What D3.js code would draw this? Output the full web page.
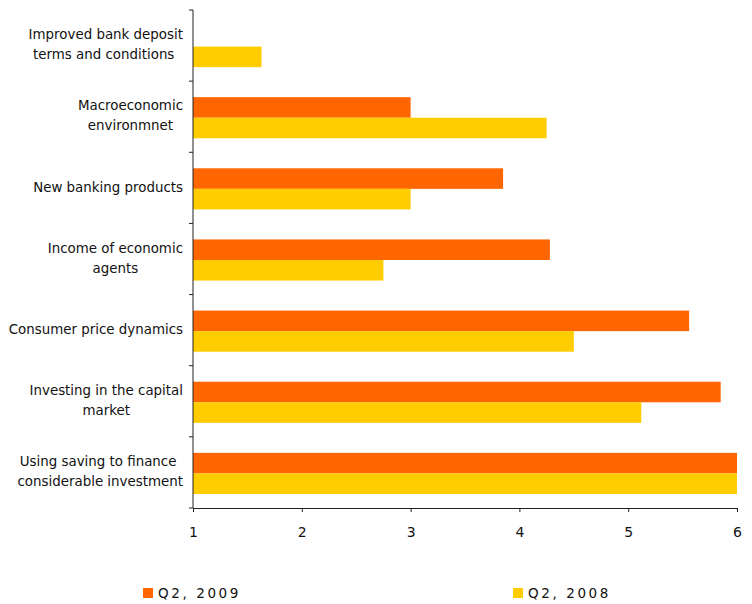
<!DOCTYPE html>
<html>
<head>
<meta charset="utf-8">
<script src="https://cdn.jsdelivr.net/npm/d3@7"></script>
<style>
  body { margin: 0; background: #fff; }
  svg { font-family: "DejaVu Sans", Verdana, sans-serif; }
  .cat { white-space: pre; }
</style>
</head>
<body>
<div id="chart"></div>
<script>
// categories, top to bottom (lines split for wrapping)
var categories = [
  ['Improved bank deposit', 'terms and conditions '],
  ['Macroeconomic', 'environmnet'],
  ['New banking products'],
  ['Income of economic', 'agents'],
  ['Consumer price dynamics'],
  ['Investing in the capital', 'market'],
  ['Using saving to finance ', 'considerable investment']
];
var series = ['Q2, 2009', 'Q2, 2008'];
var q2009 = [null, 3.0, 3.85, 4.28, 5.56, 5.85, 6.0];
var q2008 = [1.63, 4.25, 3.0, 2.75, 4.5, 5.12, 6.0];
var xTicks = [1, 2, 3, 4, 5, 6];

var width = 752, height = 604;
var colors = ['#ff6600', '#ffcc00'];
var margin = { left: 193, right: 15, top: 10, bottom: 96 };

var svg = d3.select('#chart').append('svg')
  .attr('width', width)
  .attr('height', height);

var x = d3.scaleLinear()
  .domain([1, 6])
  .range([margin.left, width - margin.right]);

var y = d3.scaleBand()
  .domain(d3.range(categories.length))
  .range([margin.top, height - margin.bottom]);

var inner = d3.scaleBand()
  .domain([0, 1])
  .range([16, y.bandwidth() - 14]);

var rows = categories.map(function (c, i) {
  return { i: i, vals: [q2009[i], q2008[i]] };
});

var g = svg.selectAll('.row').data(rows).enter().append('g')
  .attr('transform', function (d) { return 'translate(0,' + y(d.i) + ')'; });

g.selectAll('rect')
  .data(function (d) {
    return d.vals.map(function (v, k) { return { v: v, k: k }; })
      .filter(function (e) { return e.v != null; });
  })
  .enter().append('rect')
  .attr('x', x(1))
  .attr('y', function (d) { return inner(d.k); })
  .attr('width', function (d) { return x(d.v) - x(1); })
  .attr('height', inner.bandwidth())
  .attr('fill', function (d) { return colors[d.k]; });

// y axis line + ticks at band boundaries
var axisColor = '#222';
svg.append('line')
  .attr('x1', x(1)).attr('x2', x(1))
  .attr('y1', margin.top).attr('y2', height - margin.bottom)
  .attr('stroke', axisColor);
svg.selectAll('.ytick').data(d3.range(categories.length + 1)).enter().append('line')
  .attr('x1', x(1) - 4).attr('x2', x(1))
  .attr('y1', function (d) { return margin.top + d * y.step(); })
  .attr('y2', function (d) { return margin.top + d * y.step(); })
  .attr('stroke', axisColor);

// x axis
var xAxis = svg.append('g')
  .attr('transform', 'translate(0,' + (height - margin.bottom) + ')')
  .call(d3.axisBottom(x).tickValues(xTicks).tickFormat(d3.format('d')).tickSize(4).tickPadding(15));
xAxis.select('.domain').attr('stroke', axisColor);
xAxis.selectAll('.tick line').attr('stroke', axisColor);
xAxis.selectAll('text')
  .attr('font-size', 14)
  .attr('fill', '#111')
  .attr('font-family', '"DejaVu Sans", Verdana, sans-serif');

// category labels: block right-aligned, lines centered within it
var labelRight = 183, lineH = 20;
categories.forEach(function (lines, i) {
  var cy = y(i) + y.bandwidth() / 2;
  var t = svg.append('g');
  var texts = lines.map(function (s, j) {
    return t.append('text')
      .attr('class', 'cat')
      .attr('font-size', 13.4)
      .attr('fill', '#111')
      .attr('text-anchor', 'middle')
      .attr('dy', '0.35em')
      .attr('y', cy + (j - (lines.length - 1) / 2) * lineH - 1)
      .text(s);
  });
  var maxW = d3.max(texts, function (tx) { return tx.node().getComputedTextLength(); });
  texts.forEach(function (tx) { tx.attr('x', labelRight - maxW / 2); });
});

// legend
var legendX = [143, 513];
var leg = svg.selectAll('.leg').data(series).enter().append('g')
  .attr('transform', function (d, i) { return 'translate(' + legendX[i] + ',588)'; });
leg.append('rect')
  .attr('width', 10).attr('height', 10)
  .attr('fill', function (d, i) { return colors[i]; });
leg.append('text')
  .attr('x', 15).attr('y', 5).attr('dy', '0.35em')
  .attr('font-size', 13.5)
  .attr('letter-spacing', 2.6)
  .attr('fill', '#111')
  .text(function (d) { return d; });
</script>
</body>
</html>
